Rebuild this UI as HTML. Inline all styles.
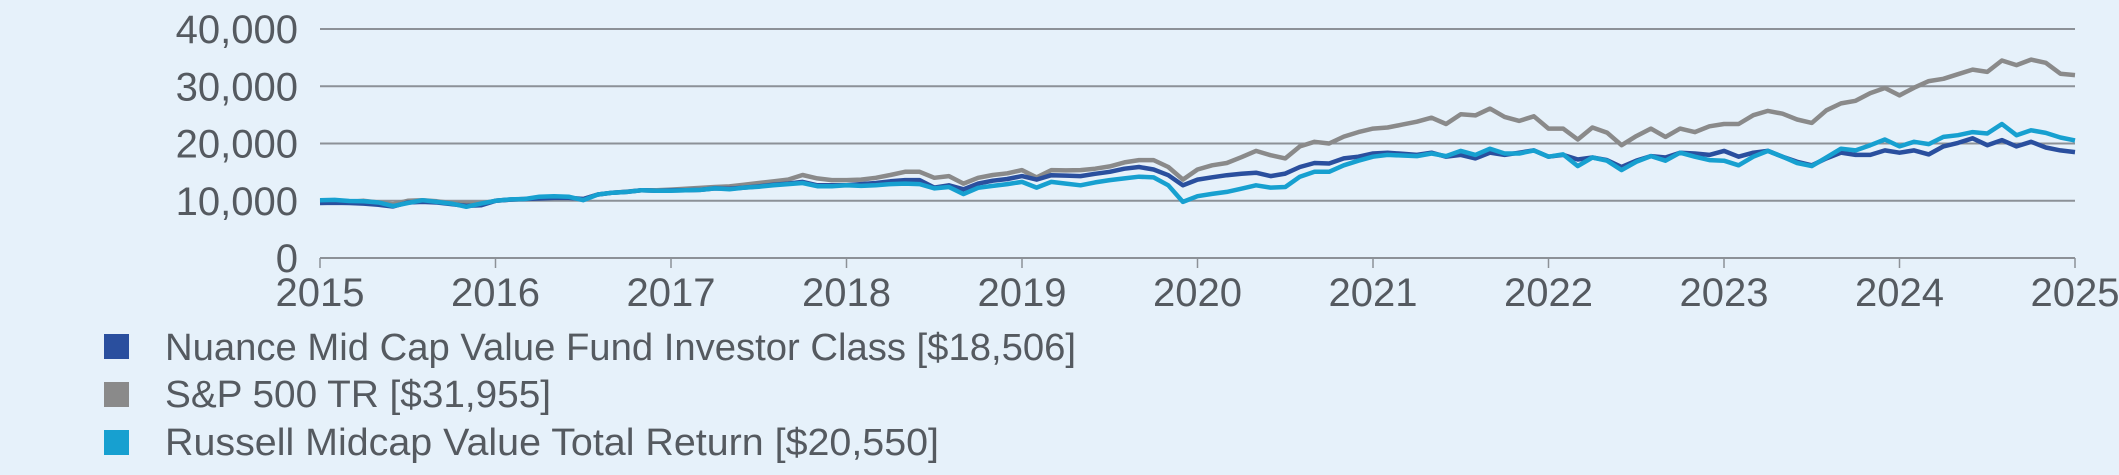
<!DOCTYPE html>
<html><head><meta charset="utf-8"><style>
html,body{margin:0;padding:0;background:#e6f1fa;}
svg{display:block;font-family:"Liberation Sans",Arial,sans-serif;}
</style></head><body>
<svg id="chart" width="2119" height="475" viewBox="0 0 2119 475" xmlns="http://www.w3.org/2000/svg">
<rect width="2119" height="475" fill="#e6f1fa"/>
<g id="grid"></g>
<g id="xaxis"></g>
<g id="series"></g>
<g font-size="38" fill="#555a60">
  <g><rect x="104" y="334" width="25" height="25" fill="#2a4f9e"/><text x="165" y="360" textLength="911" lengthAdjust="spacingAndGlyphs">Nuance Mid Cap Value Fund Investor Class [$18,506]</text></g>
  <g><rect x="104" y="382" width="25" height="25" fill="#8a8a8a"/><text x="165" y="407" textLength="386" lengthAdjust="spacingAndGlyphs">S&amp;P 500 TR [$31,955]</text></g>
  <g><rect x="104" y="430" width="25" height="25" fill="#17a0d0"/><text x="165" y="455" textLength="774" lengthAdjust="spacingAndGlyphs">Russell Midcap Value Total Return [$20,550]</text></g>
</g>
</svg>
<script>
const yTicks = [0, 10000, 20000, 30000, 40000];
const yTickLabels = ["0", "10,000", "20,000", "30,000", "40,000"];
const xYears = [2015, 2016, 2017, 2018, 2019, 2020, 2021, 2022, 2023, 2024, 2025];
const fundValues = [9600,9650,9600,9500,9300,9000,9700,9800,9700,9400,9100,9200,10000,10200,10300,10400,10500,10500,10300,11100,11400,11550,11850,11750,11800,11850,11900,12150,12100,12300,12500,12800,13000,13300,12700,12700,
12700,12900,13100,13400,13600,13600,12300,12700,12000,13000,13500,13800,14300,13700,14470,14400,14300,14700,15050,15600,15900,15450,14470,12700,13700,14100,14470,14700,14900,14300,14750,15900,16600,16500,17400,17700,
18250,18400,18200,18000,18400,17700,18000,17400,18400,18000,18400,18800,17700,18000,17200,17550,17100,15900,17000,17800,17550,18400,18250,18000,18700,17700,18400,18700,17700,16800,16200,17400,18400,18000,18000,18800,18400,18800,18100,19500,20100,20900,19700,20600,19500,20300,19300,18800,18506];
const sp500Values = [9900,10000,9800,10000,9700,9400,10000,10100,9900,9600,9500,9500,10000,10200,10300,10500,10500,10500,10300,11100,11400,11600,11850,11850,11950,12100,12250,12400,12500,12800,13100,13400,13700,14500,13900,13600,
13600,13700,14000,14500,15050,15050,14000,14300,13000,14000,14500,14800,15350,14070,15350,15300,15350,15600,16000,16700,17100,17100,15900,13700,15450,16200,16600,17600,18700,17950,17400,19500,20300,20000,21200,22000,
22600,22800,23300,23800,24500,23400,25100,24900,26100,24650,23950,24750,22600,22600,20700,22800,21900,19700,21300,22600,21150,22600,22000,23000,23400,23400,24950,25700,25200,24200,23600,25800,27000,27450,28800,29700,28400,29750,30900,31300,32100,32900,32500,34500,33700,34650,34100,32200,31955];
const russellValues = [10100,10150,9950,9900,9700,9070,9600,10100,9800,9500,8950,9500,10000,10230,10300,10700,10800,10700,10100,11100,11400,11550,11850,11750,11750,11850,11900,12150,12000,12300,12450,12700,12900,13100,12550,12550,
12700,12600,12700,12900,13000,12900,12150,12400,11160,12270,12600,12900,13300,12300,13300,13000,12700,13200,13600,13900,14200,14070,12700,9800,10800,11200,11550,12100,12700,12300,12400,14200,15050,15050,16200,17000,
17700,18000,17900,17800,18250,17800,18700,18000,19100,18250,18250,18800,17700,18100,16050,17550,17000,15350,16800,17800,17000,18400,17700,17100,17000,16200,17700,18700,17700,16600,16050,17550,19100,18800,19700,20700,19500,20300,19900,21150,21450,22000,21750,23400,21450,22300,21850,21050,20550];

const NS = "http://www.w3.org/2000/svg";
const X0 = 320, X1 = 2075, Y0 = 258, Y1 = 29;
function xScale(m){ return X0 + (X1 - X0) * m / 120; }
function yScale(v){ return Y0 + (Y1 - Y0) * v / 40000; }

const grid = document.getElementById('grid');
yTicks.forEach((t, i) => {
  const y = yScale(t);
  const ln = document.createElementNS(NS, 'line');
  ln.setAttribute('x1', X0); ln.setAttribute('x2', X1);
  ln.setAttribute('y1', y); ln.setAttribute('y2', y);
  ln.setAttribute('stroke', '#8c9197'); ln.setAttribute('stroke-width', '2');
  
  
  grid.appendChild(ln);
  const tx = document.createElementNS(NS, 'text');
  tx.setAttribute('x', 298); tx.setAttribute('y', y + 14);
  tx.setAttribute('text-anchor', 'end'); tx.setAttribute('font-size', '40'); tx.setAttribute('fill', '#555a60');
  tx.textContent = yTickLabels[i];
  
  
  grid.appendChild(tx);
});

const xaxis = document.getElementById('xaxis');
xYears.forEach((yr, i) => {
  const x = xScale((yr - xYears[0]) * 12);
  const tk = document.createElementNS(NS, 'line');
  tk.setAttribute('x1', x); tk.setAttribute('x2', x);
  tk.setAttribute('y1', Y0); tk.setAttribute('y2', Y0 + 10);
  tk.setAttribute('stroke', '#8c9197'); tk.setAttribute('stroke-width', '1.5');
  
  
  xaxis.appendChild(tk);
  const tx = document.createElementNS(NS, 'text');
  tx.setAttribute('x', x); tx.setAttribute('y', 306);
  tx.setAttribute('text-anchor', 'middle'); tx.setAttribute('font-size', '40'); tx.setAttribute('fill', '#555a60');
  tx.textContent = yr;
  
  
  xaxis.appendChild(tx);
});

const seriesG = document.getElementById('series');
function drawLine(vals, color, name){
  const p = document.createElementNS(NS, 'polyline');
  p.setAttribute('points', vals.map((v, i) => xScale(i).toFixed(1) + ',' + yScale(v).toFixed(1)).join(' '));
  p.setAttribute('fill', 'none'); p.setAttribute('stroke', color);
  p.setAttribute('stroke-width', '4.5'); p.setAttribute('stroke-linejoin', 'round');
  
  
  seriesG.appendChild(p);
}
drawLine(sp500Values, '#8a8a8a', 'sp500-line');
drawLine(fundValues, '#2a4f9e', 'fund-line');
drawLine(russellValues, '#17a0d0', 'russell-line');
</script>
</body></html>
